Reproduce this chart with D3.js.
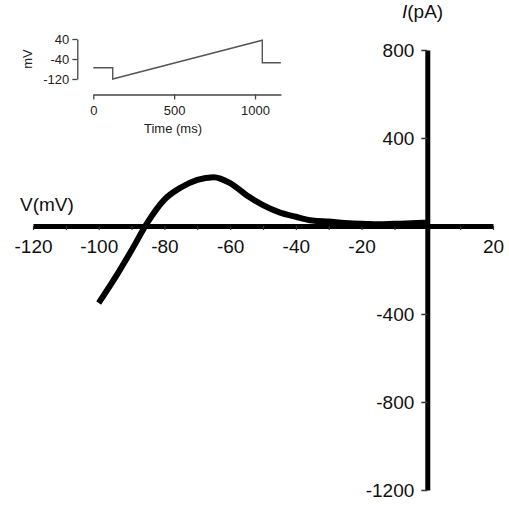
<!DOCTYPE html>
<html>
<head>
<meta charset="utf-8">
<script src="https://cdn.jsdelivr.net/npm/d3@7"></script>
<style>
  body { margin: 0; background: #fff; }
  text { font-family: "Liberation Sans", Arial, sans-serif; }
</style>
</head>
<body>
<div id="content"></div>
<script>
// I-V curve
var voltage = [-100, -95, -90, -85, -80, -75, -70, -65, -60, -55, -50, -45, -40, -35, -30, -25, -20, -15, -10, -5, 0];
var current = [-350, -235, -110, 20, 120, 175, 210, 222, 195, 140, 95, 62, 42, 25, 20, 14, 10, 8, 10, 12, 15];

var xTickLabels = [-120, -100, -80, -60, -40, -20, 20];
var xMinorTicks = d3.range(-120, 21, 10);
var yTickLabels = [-1200, -800, -400, 400, 800];

// inset: voltage protocol
var protoTime = [0, 120, 120, 1045, 1045, 1160];
var protoVolt = [-75, -75, -120, 35, -55, -55];
var insetXTicks = [0, 500, 1000];
var insetYTicks = [40, -40, -120];

var width = 509, height = 505;
var plain = function(d) { return String(d); };   // hyphen minus, no commas
var fontFam = "'Liberation Sans', Arial, sans-serif";

var svg = d3.select("#content")
  .append("svg")
  .attr("width", width)
  .attr("height", height);

var x = d3.scaleLinear().domain([-120, 20]).range([33, 493]);
var y = d3.scaleLinear().domain([-1200, 800]).range([490, 50]);

// x axis: minor ticks
var xMinor = svg.append("g")
  .attr("transform", "translate(0," + y(0) + ")")
  .call(d3.axisBottom(x).tickValues(xMinorTicks).tickSize(4).tickSizeOuter(0).tickFormat(""));
xMinor.select(".domain").attr("stroke", "#000").attr("stroke-width", 5);
xMinor.selectAll(".tick line").attr("stroke", "#333").attr("stroke-width", 1.2);

// x axis labels
var xLab = svg.append("g")
  .attr("transform", "translate(0," + y(0) + ")")
  .call(d3.axisBottom(x).tickValues(xTickLabels).tickSize(0).tickPadding(14).tickFormat(plain));
xLab.select(".domain").remove();
xLab.selectAll("text").attr("font-size", 19).attr("fill", "#111").attr("font-family", fontFam);

// y axis
var yAx = svg.append("g")
  .attr("transform", "translate(" + x(0) + ",0)")
  .call(d3.axisLeft(y).tickValues(yTickLabels).tickSize(6).tickSizeOuter(0).tickPadding(7).tickFormat(plain));
yAx.select(".domain").attr("stroke", "#000").attr("stroke-width", 5);
yAx.selectAll(".tick line").attr("stroke", "#333").attr("stroke-width", 1.5);
yAx.selectAll("text").attr("font-size", 19).attr("fill", "#111").attr("font-family", fontFam);

// axis titles
svg.append("text")
  .attr("x", 20).attr("y", 211)
  .attr("font-size", 19).attr("fill", "#111")
  .text("V(mV)");

var iTitle = svg.append("text")
  .attr("x", 402).attr("y", 18)
  .attr("font-size", 19).attr("fill", "#111");
iTitle.append("tspan").attr("font-style", "italic").text("I");
iTitle.append("tspan").text("(pA)");

// I-V curve
var ivData = voltage.map(function(v, i) { return {v: v, i: current[i]}; });
svg.append("path")
  .datum(ivData)
  .attr("fill", "none")
  .attr("stroke", "#000")
  .attr("stroke-width", 6)
  .attr("stroke-linejoin", "round")
  .attr("d", d3.line()
    .x(function(d) { return x(d.v); })
    .y(function(d) { return y(d.i); })
    .curve(d3.curveMonotoneX));

// ---- inset ----
var ix = d3.scaleLinear().domain([0, 1160]).range([93.3, 280.9]);
var iy = d3.scaleLinear().domain([-120, 40]).range([79, 39]);

var inX = svg.append("g")
  .attr("transform", "translate(0,94.5)")
  .call(d3.axisBottom(ix).tickValues(insetXTicks).tickSize(5).tickSizeOuter(0).tickPadding(6).tickFormat(plain));
inX.select(".domain").attr("stroke", "#444").attr("stroke-width", 1.3);
inX.selectAll(".tick line").attr("stroke", "#444").attr("stroke-width", 1.3);
inX.selectAll("text").attr("font-size", 13).attr("fill", "#222").attr("font-family", fontFam);

var inY = svg.append("g")
  .attr("transform", "translate(77.3,0)")
  .call(d3.axisLeft(iy).tickValues(insetYTicks).tickSize(5).tickSizeOuter(0).tickPadding(3).tickFormat(plain));
inY.select(".domain").attr("stroke", "#444").attr("stroke-width", 1.3);
inY.selectAll(".tick line").attr("stroke", "#444").attr("stroke-width", 1.3);
inY.selectAll("text").attr("font-size", 13).attr("fill", "#222").attr("font-family", fontFam);

svg.append("text")
  .attr("x", 173).attr("y", 133)
  .attr("text-anchor", "middle")
  .attr("font-size", 13).attr("fill", "#222")
  .text("Time (ms)");

svg.append("text")
  .attr("transform", "translate(32,59) rotate(-90)")
  .attr("text-anchor", "middle")
  .attr("font-size", 13).attr("fill", "#222")
  .text("mV");

var protoData = protoTime.map(function(t, i) { return {t: t, v: protoVolt[i]}; });
svg.append("path")
  .datum(protoData)
  .attr("fill", "none")
  .attr("stroke", "#555")
  .attr("stroke-width", 1.4)
  .attr("d", d3.line()
    .x(function(d) { return ix(d.t); })
    .y(function(d) { return iy(d.v); }));
</script>
</body>
</html>
